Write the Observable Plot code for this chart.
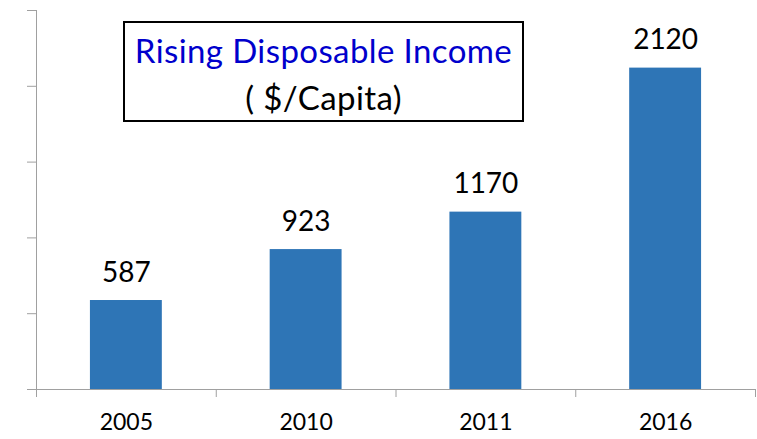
<!DOCTYPE html>
<html>
<head>
<meta charset="utf-8">
<script src="https://cdn.jsdelivr.net/npm/d3@7"></script>
<script src="https://cdn.jsdelivr.net/npm/@observablehq/plot@0.6"></script>
<style>
  html, body { margin: 0; padding: 0; background: #fff; }
  #wrap { position: relative; width: 757px; height: 439px; font-family: Lato, "Open Sans", sans-serif; }
  #title {
    position: absolute; left: 123px; top: 21px; width: 397px; height: 93px;
    border: 2px solid #000; background: #fff; text-align: center;
    font-family: Lato, sans-serif; font-size: 33px; line-height: 47px; padding-top: 4px;
    letter-spacing: 0.4px; box-sizing: content-box;
  }
  #title .t1 { color: #0000cc; }
  #title .t2 { color: #000; }
</style>
</head>
<body>
<div id="wrap">
  <div id="chart"></div>
  <div id="title"><div class="t1">Rising Disposable Income</div><div class="t2">( $/Capita)</div></div>
</div>
<script>
const years = ["2005", "2010", "2011", "2016"];
const values = [587, 923, 1170, 2120];
const yTicks = [0, 500, 1000, 1500, 2000, 2500];

const data = years.map((year, i) => ({year, value: values[i], i}));
const axisColor = "#a0a0a0";

const chart = Plot.plot({
  width: 757,
  height: 439,
  marginLeft: 36,
  marginRight: 2,
  marginTop: 10,
  marginBottom: 50,
  style: {fontFamily: "Lato, sans-serif", background: "#fff"},
  x: {type: "linear", domain: [0, years.length]},
  y: {domain: [0, 2500]},
  marks: [
    Plot.rectY(data, {x1: d => d.i + 0.3, x2: d => d.i + 0.7, y: "value", fill: "#2e75b6"}),
    Plot.ruleY([0], {x1: 0, x2: years.length, stroke: axisColor}),
    Plot.ruleX([0], {y1: 0, y2: 2500, stroke: axisColor}),
    Plot.axisY({ticks: yTicks, tickSize: 9, tickFormat: () => "", stroke: axisColor, label: null}),
    Plot.axisX({ticks: d3.range(years.length + 1), tickSize: 8, tickFormat: () => "", stroke: axisColor, label: null}),
    Plot.axisX({ticks: years.map((y, i) => i + 0.5), tickSize: 0, tickPadding: 24, tickFormat: (d) => years[Math.floor(d)], fontSize: 23, fill: "#000", label: null}),
    Plot.text(data, {x: d => d.i + 0.5, y: "value", text: d => String(d.value), dy: -19, lineAnchor: "bottom", fontSize: 28, fill: "#000"})
  ]
});
document.getElementById("chart").appendChild(chart);
</script>
</body>
</html>
